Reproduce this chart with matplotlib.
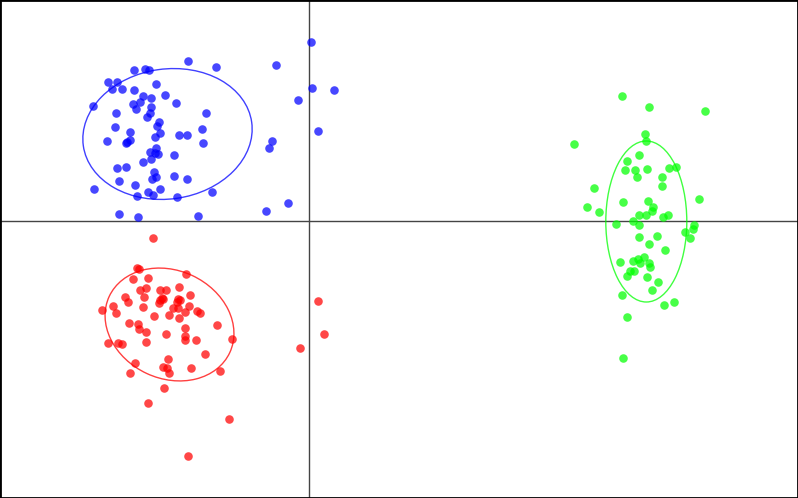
import matplotlib
matplotlib.use("Agg")
import matplotlib.pyplot as plt
from matplotlib.patches import Ellipse
import numpy as np

# ---- data (arbitrary units, origin at axis crossing) ----
blue_x = [-121, -93, -175, -164, -160, -201, -192, -197, -187, -175, -153, -144, -133, -216,
          -166, -158, -169, -176, -173, -158, -159, -162, -193, -103, -150, -152, -194, -107,
          -179, -202, -182, -179, -183, -154, -149, -130, -122, -106, -153, -159, -151, -154,
          -158, -166, -135, -192, -183, -155, -153, -157, -135, -122, -190, -174, -215, -149,
          -161, -156, -172, -132, -97, -190, -171, -111, 2, -33, 3, 25, -11, -37, -40, 9, -21, -43]
blue_y = [160, 154, 151, 152, 151, 139, 139, 132, 132, 131, 137, 126, 118, 115,
          125, 123, 119, 117, 112, 114, 108, 104, 108, 108, 99, 95, 94, 92,
          89, 80, 79, 81, 78, 84, 88, 86, 86, 78, 73, 69, 67, 68,
          62, 59, 66, 53, 54, 49, 44, 42, 45, 42, 40, 36, 32, 32,
          29, 26, 25, 24, 29, 7, 4, 5, 179, 156, 133, 131, 121, 80, 73, 90, 18, 10]

red_x = [-156, -172, -170, -123, -176, -161, -130, -169, -163, -149, -143, -184, -181, -165,
         -119, -147, -149, -146, -150, -131, -129, -132, -196, -166, -136, -131, -120, -207,
         -193, -124, -112, -109, -155, -140, -130, -180, -171, -170, -163, -124, -92, -143,
         -124, -124, -113, -77, -201, -191, -187, -163, -9, -104, -141, -174, -146, -142,
         -140, -118, -179, -89, -145, -161, -80, -121, 9, 15]
red_y = [-17, -47, -48, -53, -58, -57, -66, -69, -67, -69, -69, -76, -81, -76,
         -74, -77, -79, -78, -82, -78, -79, -81, -85, -86, -87, -87, -85, -89,
         -92, -91, -90, -92, -95, -94, -97, -102, -103, -108, -111, -107, -104, -113,
         -115, -119, -119, -118, -122, -122, -123, -121, -127, -133, -138, -142, -146, -147,
         -152, -147, -152, -150, -167, -182, -198, -235, -80, -113]

green_x = [313, 340, 396, 265, 336, 337, 330, 318, 316, 326, 328, 338, 360, 367, 353, 353,
           285, 390, 314, 339, 344, 278, 290, 343, 330, 337, 354, 359, 307, 324, 330, 385,
           384, 376, 381, 330, 348, 340, 356, 311, 324, 329, 335, 331, 340, 341, 321, 325,
           318, 338, 349, 343, 313, 355, 365, 318, 314]
green_y = [125, 114, 110, 77, 87, 80, 66, 60, 51, 51, 44, 52, 53, 54, 44, 35,
           33, 22, 19, 20, 14, 14, 9, 10, 6, 6, 4, 6, -3, 0, -4, -4,
           -8, -11, -17, -16, -15, -23, -29, -41, -40, -38, -36, -42, -42, -46, -50, -50,
           -55, -56, -61, -69, -74, -84, -81, -96, -137]

# ellipse parameters: center x, center y, width, height, angle (deg)
ell_cx = [-141.5, -139.5, 337.3]
ell_cy = [87, -103.5, -0.5]
ell_w = [170, 133, 81]
ell_h = [130, 108, 161]
ell_angle = [8, -25, 0]

colors = ["#0000ff", "#ff0000", "#00ff00"]

fig = plt.figure(figsize=(7.98, 4.98), dpi=100)
ax = fig.add_axes([0, 0, 1, 1])

ax.axhline(0, color="#444444", lw=1, zorder=1)
ax.axvline(0, color="#444444", lw=1, zorder=1)

series = [(blue_x, blue_y), (red_x, red_y), (green_x, green_y)]
for (xs, ys), c in zip(series, colors):
    ax.scatter(xs, ys, s=38, color=c, alpha=0.72, linewidths=0, zorder=3)

for i, c in enumerate(colors):
    e = Ellipse((ell_cx[i], ell_cy[i]), ell_w[i], ell_h[i], angle=ell_angle[i],
                fill=False, edgecolor=c, alpha=0.75, lw=1, zorder=2)
    ax.add_patch(e)

ax.set_xlim(-309, 489)
ax.set_ylim(-277, 221)
ax.set_xticks([])
ax.set_yticks([])
for sp in ax.spines.values():
    sp.set_color("black")
    sp.set_linewidth(2)

fig.savefig("out.png", dpi=100)
